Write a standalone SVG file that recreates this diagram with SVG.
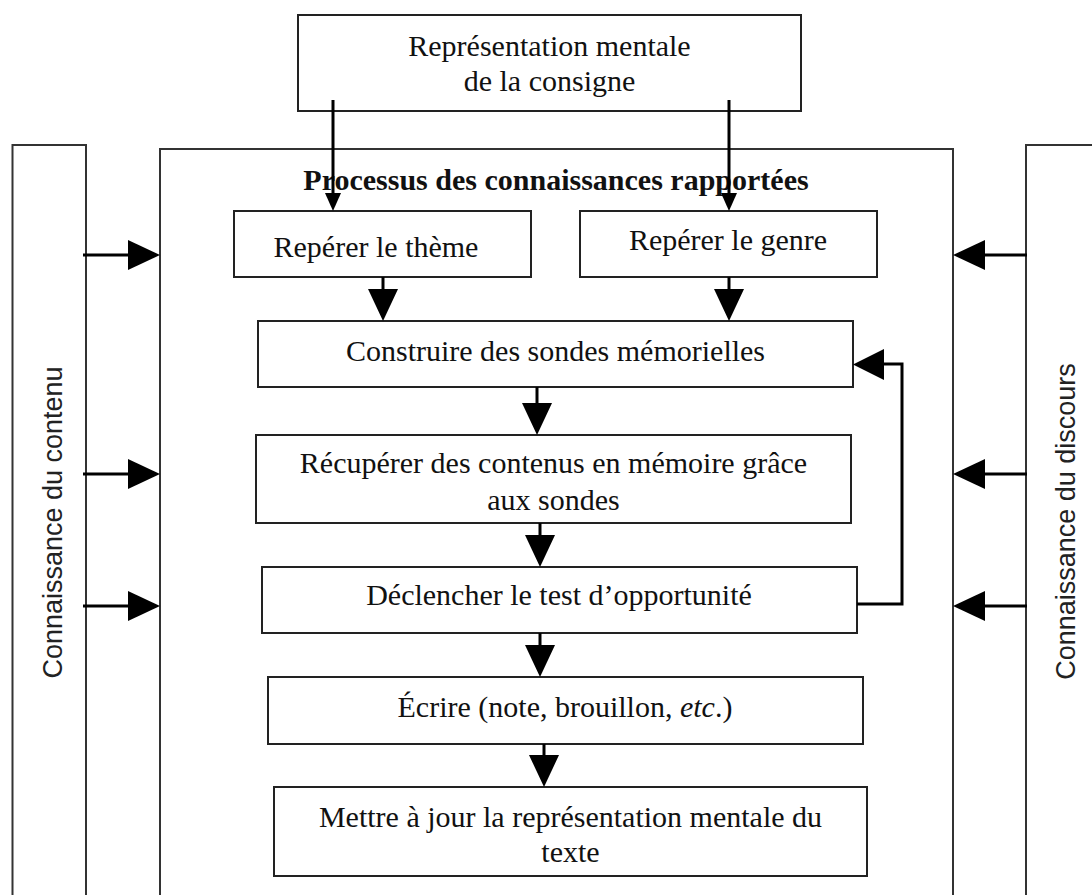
<svg xmlns="http://www.w3.org/2000/svg" width="1092" height="895" viewBox="0 0 1092 895">
<style>
.box{fill:#fff;stroke:#222;stroke-width:2}
.frame{fill:none;stroke:#333;stroke-width:2}
.t{font-family:"Liberation Serif","Times New Roman",serif;font-size:30px;fill:#111;text-anchor:middle}
.b{font-weight:bold}
.v{font-family:"Liberation Sans",Arial,sans-serif;font-size:27px;fill:#222;text-anchor:middle}
.ln{fill:none;stroke:#000;stroke-width:3}
.ah{fill:#000}
</style>
<rect width="1092" height="895" fill="#fff"/>
<g id="col-left">
<rect class="frame" x="12.5" y="145" width="73.5" height="770"/>
<text class="v" transform="translate(62,522.5) rotate(-90)">Connaissance du contenu</text>
</g>
<g id="col-right">
<rect class="frame" x="1026" y="145" width="90" height="770"/>
<text class="v" transform="translate(1075,521.5) rotate(-90)">Connaissance du discours</text>
</g>
<g id="processus">
<rect class="frame" x="160" y="149" width="793" height="770"/>
<text class="t b" x="556" y="190">Processus des connaissances rapportées</text>
</g>
<g id="consigne">
<rect class="box" x="298" y="15" width="503" height="96"/>
<text class="t" x="549.5" y="56">Représentation mentale</text>
<text class="t" x="549.5" y="91">de la consigne</text>
</g>
<g id="theme">
<rect class="box" x="234" y="211" width="297" height="66"/>
<text class="t" x="376" y="257">Repérer le thème</text>
</g>
<g id="genre">
<rect class="box" x="580" y="211" width="297" height="66"/>
<text class="t" x="728" y="250">Repérer le genre</text>
</g>
<g id="construire">
<rect class="box" x="258" y="321" width="595" height="66"/>
<text class="t" x="555.5" y="361">Construire des sondes mémorielles</text>
</g>
<g id="recuperer">
<rect class="box" x="256" y="435" width="595" height="88"/>
<text class="t" x="553.5" y="473">Récupérer des contenus en mémoire grâce</text>
<text class="t" x="553.5" y="510">aux sondes</text>
</g>
<g id="declencher">
<rect class="box" x="262" y="567" width="595" height="66"/>
<text class="t" x="559" y="605">Déclencher le test d’opportunité</text>
</g>
<g id="ecrire">
<rect class="box" x="268" y="677" width="595" height="67"/>
<text class="t" x="565" y="717">Écrire (note, brouillon, <tspan font-style="italic">etc</tspan>.)</text>
</g>
<g id="mettre">
<rect class="box" x="274" y="787" width="593" height="89"/>
<text class="t" x="570.5" y="827">Mettre à jour la représentation mentale du</text>
<text class="t" x="570.5" y="862">texte</text>
</g>
<g id="connectors">
<line class="ln" x1="333" y1="100" x2="333" y2="194"/>
<polygon class="ah" points="325,193 341,193 333,211"/>
<line class="ln" x1="729" y1="100" x2="729" y2="194"/>
<polygon class="ah" points="721,193 737,193 729,211"/>
<line class="ln" x1="383" y1="277" x2="383" y2="292"/>
<polygon class="ah" points="368,289 398,289 383,321"/>
<line class="ln" x1="729" y1="277" x2="729" y2="292"/>
<polygon class="ah" points="714,289 744,289 729,321"/>
<line class="ln" x1="537" y1="387" x2="537" y2="405"/>
<polygon class="ah" points="522,403 552,403 537,435"/>
<line class="ln" x1="540" y1="523" x2="540" y2="538"/>
<polygon class="ah" points="525,535 555,535 540,567"/>
<line class="ln" x1="540" y1="633" x2="540" y2="648"/>
<polygon class="ah" points="525,645 555,645 540,677"/>
<line class="ln" x1="544" y1="744" x2="544" y2="758"/>
<polygon class="ah" points="529,755 559,755 544,787"/>
<polyline class="ln" points="857,604 902,604 902,364 880,364"/>
<polygon class="ah" points="884,349 884,380 853,364.5"/>
<line class="ln" x1="83" y1="255" x2="131" y2="255"/>
<polygon class="ah" points="128,240 128,270 160,255"/>
<line class="ln" x1="83" y1="474" x2="131" y2="474"/>
<polygon class="ah" points="128,459 128,489 160,474"/>
<line class="ln" x1="83" y1="606" x2="131" y2="606"/>
<polygon class="ah" points="128,591 128,621 160,606"/>
<line class="ln" x1="1027" y1="255" x2="982" y2="255"/>
<polygon class="ah" points="985,240 985,270 953,255"/>
<line class="ln" x1="1027" y1="474" x2="982" y2="474"/>
<polygon class="ah" points="985,459 985,489 953,474"/>
<line class="ln" x1="1027" y1="606" x2="982" y2="606"/>
<polygon class="ah" points="985,591 985,621 953,606"/>
</g>
</svg>
